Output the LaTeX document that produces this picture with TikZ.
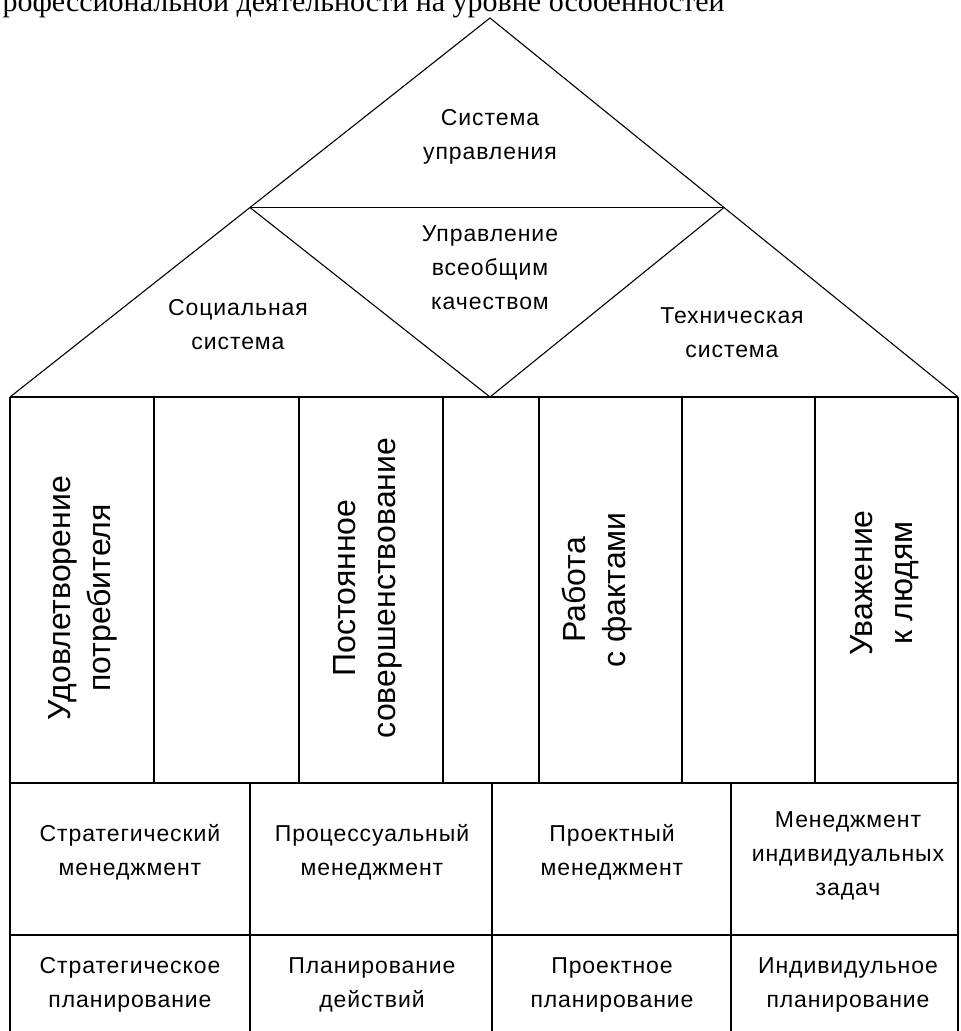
\documentclass[tikz,border=0pt]{standalone}
\usepackage{fontspec}
\setmainfont{Liberation Sans}
\newfontfamily\widesans{Liberation Sans}[LetterSpace=4]
\newfontfamily\cutserif{Liberation Serif}
\usetikzlibrary{calc}
\begin{document}
\begin{tikzpicture}[x=1pt,y=-1pt,line width=1.1pt,
  lbl/.style={align=center,font=\widesans\fontsize{23}{34}\selectfont,inner sep=0pt},
  vlbl/.style={align=center,rotate=90,font=\fontsize{32}{40}\selectfont,inner sep=0pt},
  cuttext/.style={anchor=base west,font=\cutserif\fontsize{30}{32}\selectfont,inner sep=0pt}]
\useasboundingbox (0,0) rectangle (961,1031);
\clip (0,0) rectangle (961,1031);
\fill[white] (0,0) rectangle (961,1031);
% cut-off line of text at the top (clipped in the reference)
\node[cuttext] (topline) at (2,11) {рофессиональной деятельности на уровне особенностей};
% roof
\coordinate (apex) at (490,18);
\coordinate (bl) at (10,397);
\coordinate (br) at (958,397);
\coordinate (il) at ($(apex)!0.5!(bl)$);
\coordinate (ir) at ($(apex)!0.5!(br)$);
\coordinate (vb) at (490,397);
\draw (bl) -- (apex) -- (br);
\draw (il) -- (ir);
\draw (il) -- (vb) -- (ir);
% pillars
\coordinate (c0t) at (10,397);   \coordinate (c0b) at (10,1031);
\coordinate (c7t) at (958,397);  \coordinate (c7b) at (958,1031);
\draw (c0t) -- (c7t);
\draw (c0t) -- (c0b);
\draw (c7t) -- (c7b);
\foreach \x [count=\i] in {154,299,443,539,682,815}{
  \coordinate (p\i t) at (\x,397);
  \coordinate (p\i b) at (\x,783);
  \draw (p\i t) -- (p\i b);
}
\coordinate (r1l) at (10,783);  \coordinate (r1r) at (958,783);
\coordinate (r2l) at (10,935);  \coordinate (r2r) at (958,935);
\draw (r1l) -- (r1r);
\draw (r2l) -- (r2r);
\foreach \x [count=\i] in {250,492,731}{
  \coordinate (q\i t) at (\x,783);
  \coordinate (q\i b) at (\x,1031);
  \draw (q\i t) -- (q\i b);
}
% roof labels
\node[lbl] (su) at (490,137) {Система\\управления};
\node[lbl] (tqm) at (490,268) {Управление\\всеобщим\\качеством};
\node[lbl] (soc) at (238,325) {Социальная\\система};
\node[lbl] (tech) at (732,333) {Техническая\\система};
% pillar labels
\node[vlbl] (v1) at (83,598) {Удовлетворение\\потребителя};
\node[vlbl] (v3) at (368,588) {Постоянное\\совершенствование};
\node[vlbl] (v5) at (597,590) {Работа\\с фактами};
\node[vlbl] (v7) at (885,583) {Уважение\\к людям};
% management row
\node[lbl] (m1) at (130,852) {Стратегический\\менеджмент};
\node[lbl] (m2) at (372,852) {Процессуальный\\менеджмент};
\node[lbl] (m3) at (612,852) {Проектный\\менеджмент};
\node[lbl] (m4) at (848,856) {Менеджмент\\индивидуальных\\задач};
% planning row
\node[lbl] (n1) at (130,985) {Стратегическое\\планирование};
\node[lbl] (n2) at (372,985) {Планирование\\действий};
\node[lbl] (n3) at (612,985) {Проектное\\планирование};
\node[lbl] (n4) at (848,985) {Индивидульное\\планирование};
\end{tikzpicture}
\end{document}
